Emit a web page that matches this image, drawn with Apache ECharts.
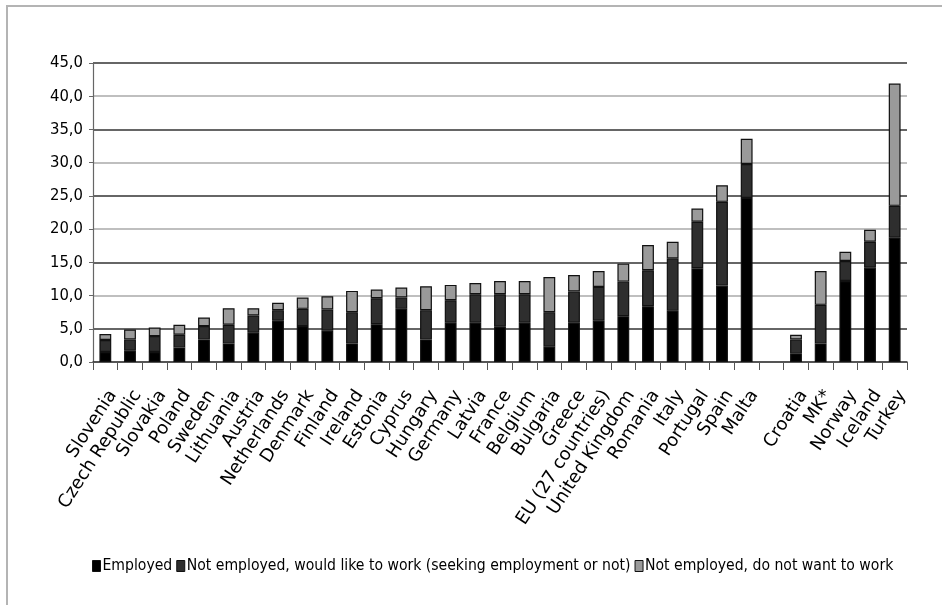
<!DOCTYPE html>
<html>
<head>
<meta charset="utf-8">
<script src="https://cdn.jsdelivr.net/npm/echarts@6/dist/echarts.min.js"></script>
<style>
	html, body { margin: 0; padding: 0; background: #fff; }
	#frame { position: absolute; left: 6px; top: 5px; width: 940px; height: 602px; border-left: 2px solid #b4b4b4; border-top: 2px solid #b4b4b4; }
	#mychart { position: absolute; left: 0; top: 0; width: 942px; height: 605px; }
</style>
</head>
<body>
<div id="frame"></div>
<div id="mychart"></div>
<script>
// categories (the empty one is the gap before non-EU countries)
var countries = ['Slovenia', 'Czech Republic', 'Slovakia', 'Poland', 'Sweden', 'Lithuania', 'Austria',
	'Netherlands', 'Denmark', 'Finland', 'Ireland', 'Estonia', 'Cyprus', 'Hungary', 'Germany', 'Latvia',
	'France', 'Belgium', 'Bulgaria', 'Greece', 'EU (27 countries)', 'United Kingdom', 'Romania', 'Italy',
	'Portugal', 'Spain', 'Malta', '', 'Croatia', 'MK*', 'Norway', 'Iceland', 'Turkey'];

var employed = [1.5, 1.7, 1.5, 2.2, 3.4, 2.8, 4.4, 6.2, 5.4, 4.7, 2.8, 5.7, 8.0, 3.4, 5.9, 5.9,
	5.3, 5.9, 2.3, 5.9, 6.2, 6.9, 8.4, 7.7, 14.1, 11.5, 24.7, null, 1.3, 2.8, 12.2, 14.2, 18.7];

var wouldLikeToWork = [1.8, 1.7, 2.4, 1.9, 2.0, 2.8, 2.6, 1.6, 2.6, 3.2, 4.7, 3.9, 1.7, 4.4, 3.4, 4.3,
	4.9, 4.3, 5.2, 4.7, 5.1, 5.2, 5.4, 7.9, 7.0, 12.6, 5.1, null, 2.1, 5.8, 3.0, 3.9, 4.8];

var doNotWantToWork = [0.9, 1.5, 1.3, 1.5, 1.3, 2.5, 1.1, 1.1, 1.7, 2.0, 3.2, 1.3, 1.5, 3.6, 2.3, 1.7,
	2.0, 2.0, 5.3, 2.5, 2.4, 2.7, 3.8, 2.5, 2.0, 2.5, 3.8, null, 0.7, 5.1, 1.4, 1.8, 18.4];

var seriesNames = ['Employed', 'Not employed, would like to work (seeking employment or not)', 'Not employed, do not want to work'];
var seriesColors = ['#000000', '#2e2e2e', '#9a9a9a'];

var myChart = echarts.init(document.getElementById('mychart'));

function makeSeries(idx, values) {
	return {
		name: seriesNames[idx],
		type: 'bar',
		stack: 'total',
		data: values,
		barWidth: '48%',
		itemStyle: {
			color: seriesColors[idx],
			borderColor: '#111',
			borderWidth: 1.2
		},
		emphasis: { disabled: true }
	};
}

var option = {
	animation: false,
	textStyle: { fontFamily: 'DejaVu Sans Condensed' },
	grid: {
		left: 93,
		right: 35,
		top: 63,
		bottom: 243
	},
	legend: {
		bottom: 26,
		left: 87,
		itemWidth: 8,
		itemHeight: 11,
		itemGap: 4,
		icon: 'rect',
		textStyle: {
			fontFamily: 'DejaVu Sans Condensed',
			fontSize: 15.6,
			color: '#000',
			padding: [0, 0, 0, -3]
		},
		data: seriesNames.map(function(n, i) {
			return { name: n, itemStyle: { color: seriesColors[i], borderColor: '#111', borderWidth: 1 } };
		})
	},
	xAxis: {
		type: 'category',
		data: countries,
		axisLine: { lineStyle: { color: '#333', width: 1.5 } },
		axisTick: { show: true, length: 8, lineStyle: { color: '#555' } },
		axisLabel: {
			rotate: 57,
			interval: 0,
			margin: 25,
			verticalAlign: 'top',
			fontSize: 18,
			fontFamily: 'DejaVu Sans',
			color: '#000'
		}
	},
	yAxis: {
		type: 'value',
		min: 0,
		max: 45,
		interval: 5,
		axisLine: { show: true, lineStyle: { color: '#666', width: 1.2 } },
		axisTick: { show: true, length: 4, lineStyle: { color: '#666' } },
		axisLabel: {
			fontSize: 16.5,
			fontFamily: 'DejaVu Sans Condensed',
			color: '#000',
			margin: 10,
			formatter: function(v) {
				return v.toFixed(1).replace('.', ',');
			}
		},
		splitLine: {
			show: true,
			lineStyle: {
				color: ['#aaaaaa', '#333333'],
				width: 1.5
			}
		}
	},
	series: [
		makeSeries(0, employed),
		makeSeries(1, wouldLikeToWork),
		makeSeries(2, doNotWantToWork)
	]
};
myChart.setOption(option);
</script>
</body>
</html>
